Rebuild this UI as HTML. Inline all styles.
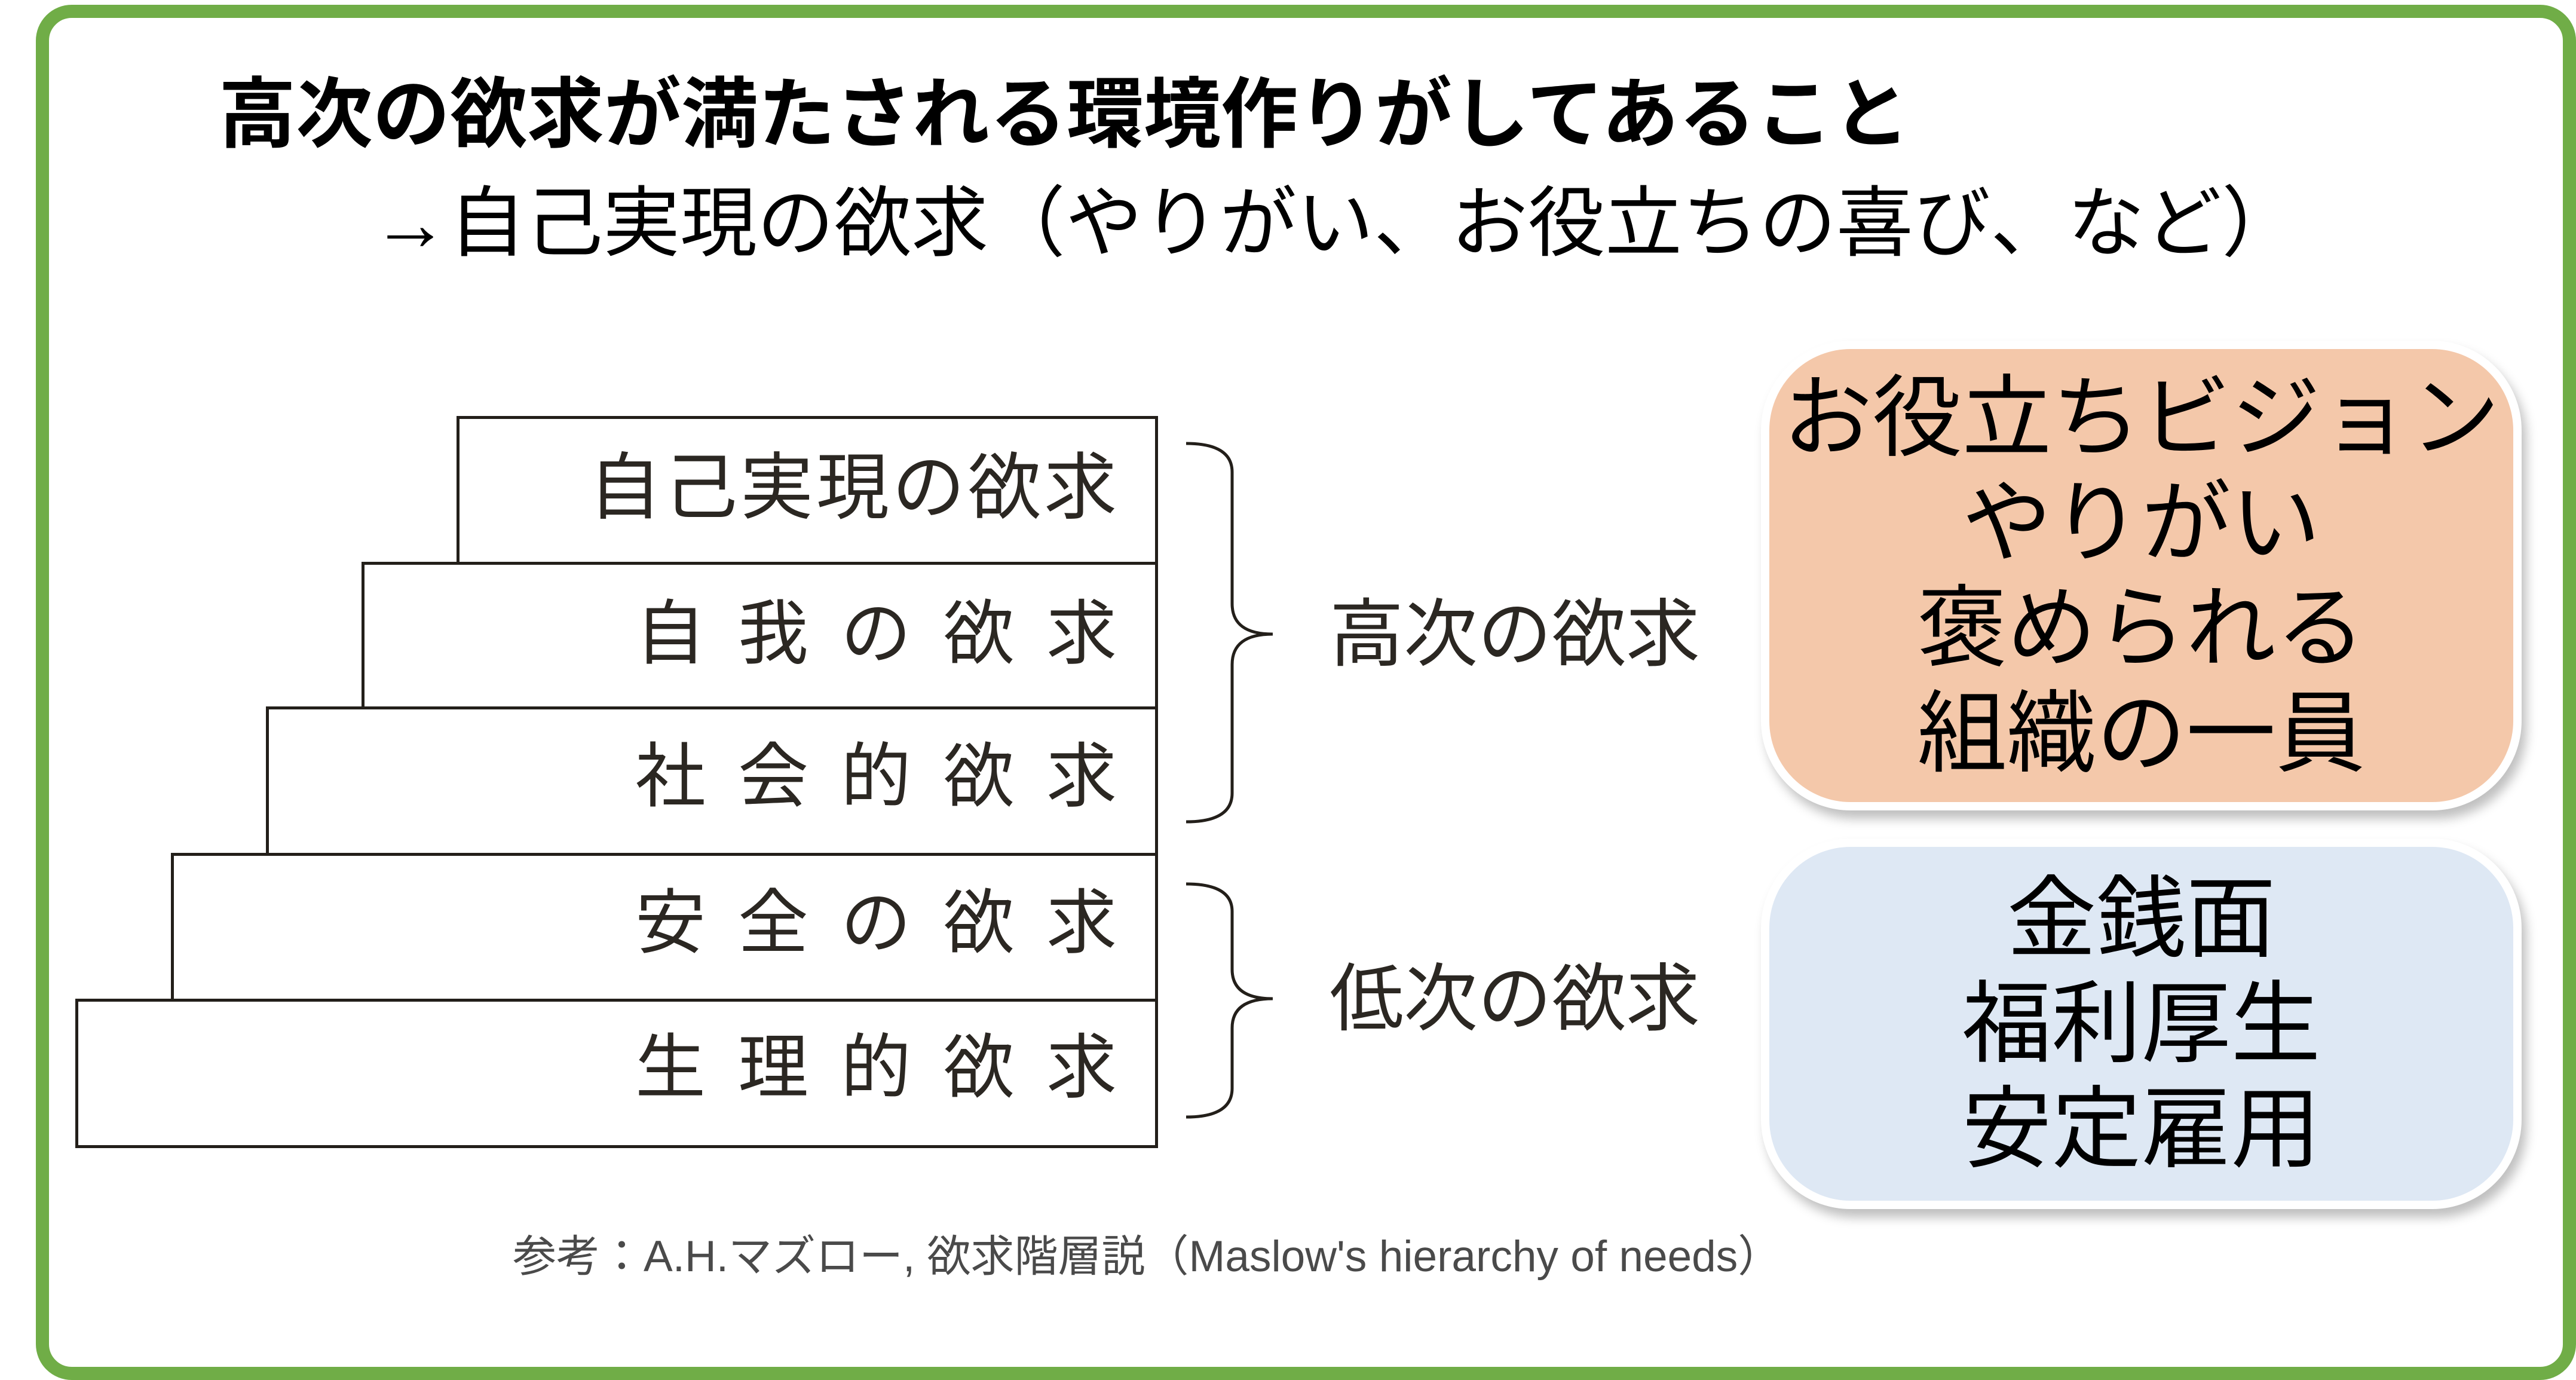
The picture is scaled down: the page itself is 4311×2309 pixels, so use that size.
<!DOCTYPE html>
<html><head><meta charset="utf-8"><style>
html,body{margin:0;padding:0;background:#fff}
body{width:4311px;height:2302px;position:relative;overflow:hidden;font-family:"Liberation Sans","Noto Sans CJK JP",sans-serif}
.a{position:absolute;white-space:nowrap;line-height:1}
.frame{position:absolute;left:60px;top:8px;width:4207px;height:2257px;border:22px solid #70AD47;border-radius:60px;box-sizing:content-box}
.step{position:absolute;border:5px solid #231f1a;background:#fff;box-sizing:border-box}
.st{position:absolute;font-size:115px;color:#2b2722;line-height:1}
.box{position:absolute;left:2947px;width:1273px;border:14px solid #fff;border-radius:150px;box-shadow:8px 14px 18px rgba(0,0,0,0.25);box-sizing:border-box;text-align:center;font-size:150px;color:#000;display:flex;flex-direction:column;justify-content:center;align-items:center;line-height:176px}
</style></head><body>
<div class="frame"></div>
<div class="a" style="left:366px;top:128px;font-size:129px;font-weight:bold;color:#000">高次の欲求が満たされる環境作りがしてあること</div>
<div class="a" style="left:622px;top:310px;font-size:129px;color:#000">→自己実現の欲求（やりがい、お役立ちの喜び、など）</div>

<div class="step" style="left:764px;top:696px;width:1174px;height:249px"></div>
<div class="step" style="left:605px;top:940px;width:1333px;height:247px"></div>
<div class="step" style="left:445px;top:1182px;width:1493px;height:250px"></div>
<div class="step" style="left:286px;top:1427px;width:1652px;height:249px"></div>
<div class="step" style="left:126px;top:1671px;width:1812px;height:250px"></div>

<div class="st" style="top:755px;font-size:122px;letter-spacing:5px;right:2437px">自己実現の欲求</div>
<div class="st" style="top:1002px;font-size:118px;letter-spacing:54px;right:2388px">自我の欲求</div>
<div class="st" style="top:1241px;font-size:118px;letter-spacing:54px;right:2388px">社会的欲求</div>
<div class="st" style="top:1486px;font-size:118px;letter-spacing:54px;right:2388px">安全の欲求</div>
<div class="st" style="top:1728px;font-size:118px;letter-spacing:54px;right:2388px">生理的欲求</div>

<svg class="a" style="left:0;top:0" width="4311" height="2302">
<path d="M1985,742 Q2062,742 2062,790 L2062,1010 Q2062,1061 2130,1061 Q2062,1061 2062,1112 L2062,1327 Q2062,1375 1985,1375" fill="none" stroke="#231f1a" stroke-width="5"/>
<path d="M1985,1479 Q2062,1479 2062,1525 L2062,1622 Q2062,1671 2130,1671 Q2062,1671 2062,1720 L2062,1821 Q2062,1869 1985,1869" fill="none" stroke="#231f1a" stroke-width="5"/>
</svg>

<div class="a" style="left:2225px;top:1000px;font-size:124px;color:#2b2722">高次の欲求</div>
<div class="a" style="left:2225px;top:1610px;font-size:124px;color:#2b2722">低次の欲求</div>

<div class="box" style="top:570px;height:786px;background:#F4C8AA"><div>お役立ちビジョン</div><div>やりがい</div><div>褒められる</div><div>組織の一員</div></div>
<div class="box" style="top:1403px;height:620px;background:#DEE8F4"><div>金銭面</div><div>福利厚生</div><div>安定雇用</div></div>

<div class="a" style="left:858px;top:2066px;font-size:73px;color:#4a4a4a">参考：A.H.マズロー, 欲求階層説（Maslow's hierarchy of needs）</div>
</body></html>
